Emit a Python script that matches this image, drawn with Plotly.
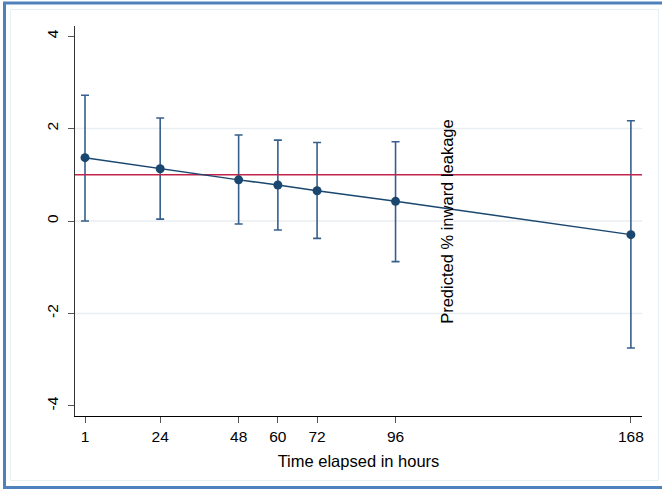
import plotly.graph_objects as go

hours = [1, 24, 48, 60, 72, 96, 168]
predicted = [1.37, 1.13, 0.89, 0.78, 0.655, 0.425, -0.295]
upper_ci = [2.72, 2.23, 1.86, 1.75, 1.70, 1.715, 2.17]
lower_ci = [0.0, 0.04, -0.065, -0.195, -0.375, -0.88, -2.75]
x_ticks = [1, 24, 48, 60, 72, 96, 168]
y_ticks = [-4, -2, 0, 2, 4]
y_tick_labels = ["-4", "-2", "0", "2", "4"]
reference_level = 1
y_title = "Predicted % inward leakage"
x_title = "Time elapsed in hours"

err_plus = [u - p for u, p in zip(upper_ci, predicted)]
err_minus = [p - l for p, l in zip(predicted, lower_ci)]

W, H = 662, 490
L, R, T, B = 75, 20, 26, 74
pw, ph = W - L - R, H - T - B
FONT = "Liberation Sans, Arial"

def px2paper_x(px):
    return (px - L) / pw

def px2paper_y(py):
    return (H - B - py) / ph

fig = go.Figure()

fig.add_trace(go.Scatter(
    x=hours, y=predicted, mode="markers",
    marker=dict(size=1, color="rgba(0,0,0,0)"),
    error_y=dict(type="data", symmetric=False, array=err_plus, arrayminus=err_minus,
                 color="#365f8c", thickness=1.6, width=4),
    showlegend=False, hoverinfo="skip"))

fig.add_trace(go.Scatter(
    x=[-2.06, 171.4], y=[reference_level, reference_level], mode="lines",
    line=dict(color="#c4244b", width=1.6), showlegend=False, hoverinfo="skip"))

fig.add_trace(go.Scatter(
    x=hours, y=predicted, mode="lines+markers",
    line=dict(color="#1a476f", width=1.5),
    marker=dict(size=9, color="#1a476f"),
    showlegend=False))

fig.add_annotation(
    x=111.7, y=0, xref="x", yref="y", text=y_title, showarrow=False,
    textangle=-90, font=dict(size=16.5, color="#000", family=FONT))

fig.add_shape(type="rect", xref="paper", yref="paper",
              x0=px2paper_x(10.5), x1=px2paper_x(658.5), y0=px2paper_y(480.5), y1=px2paper_y(9.5),
              line=dict(color="#e9eef2", width=1), layer="below")
fig.add_shape(type="rect", xref="paper", yref="paper",
              x0=px2paper_x(4.5), x1=px2paper_x(670), y0=px2paper_y(487.5), y1=px2paper_y(3),
              line=dict(color="#4f81bd", width=3))

for yv in [-2, 0, 2]:
    fig.add_shape(type="line", xref="paper", yref="y", x0=0, x1=1, y0=yv, y1=yv,
                  line=dict(color="#e8eef1", width=1.5), layer="below")

fig.update_layout(
    width=W, height=H,
    margin=dict(l=L, r=R, t=T, b=B),
    paper_bgcolor="white", plot_bgcolor="white",
    font=dict(family=FONT, size=15.5, color="#000"),
    xaxis=dict(range=[-2.06, 171.4], tickmode="array", tickvals=x_ticks,
               ticks="outside", ticklen=6, tickcolor="#555", showgrid=False,
               showline=True, linecolor="#000", linewidth=1.2, zeroline=False,
               title=dict(text=x_title, font=dict(size=16.5), standoff=11)),
    yaxis=dict(range=[-4.22, 4.22], tickmode="array", tickvals=y_ticks,
               ticktext=y_tick_labels, ticklabelstandoff=4,
               ticks="outside", ticklen=6, tickcolor="#555", tickangle=-90,
               showgrid=False, showline=True, linecolor="#333", linewidth=1.2,
               zeroline=False),
)

fig.write_html("out.html", config={"displayModeBar": False},
               post_script="document.body.style.margin='0';document.body.style.overflow='hidden';")
